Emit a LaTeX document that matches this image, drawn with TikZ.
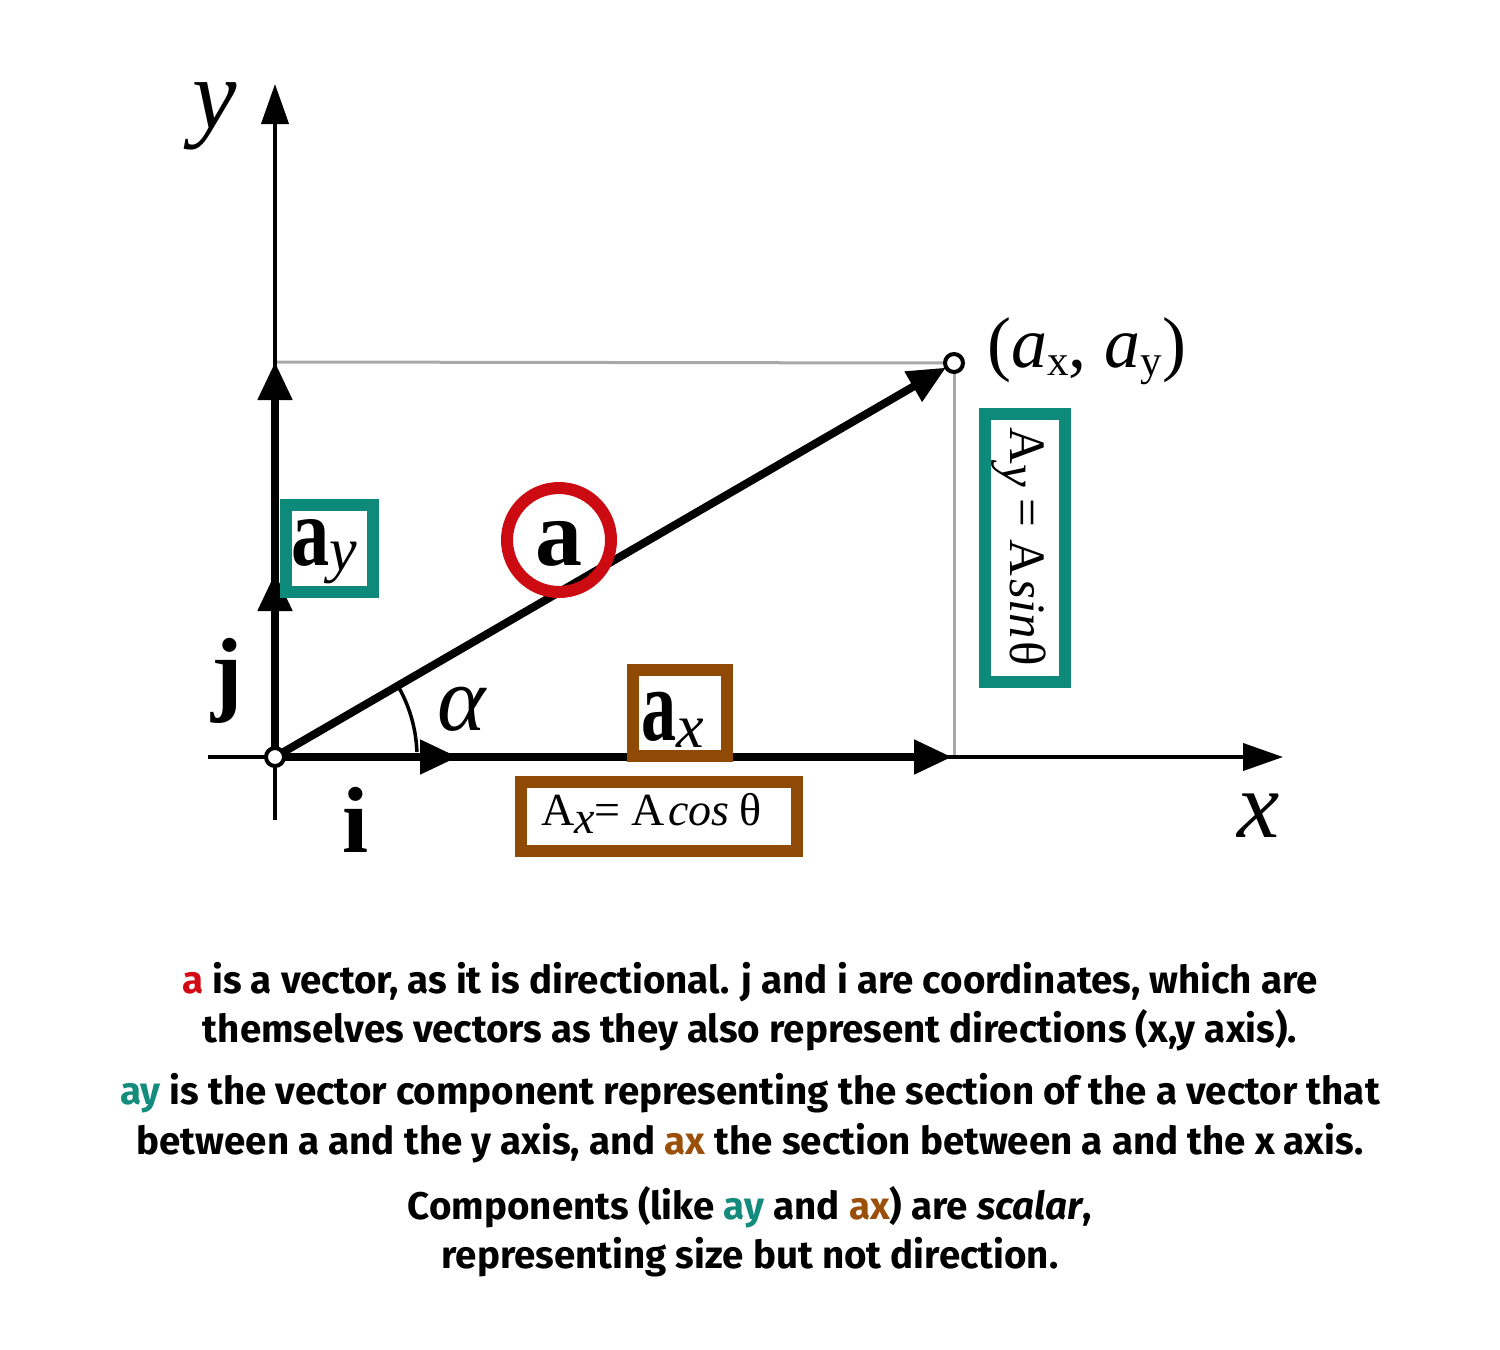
\documentclass[tikz,border=0pt]{standalone}
\usepackage{graphicx}
\usepackage{fontspec}
\setmainfont{Fira Sans}
\newfontfamily\sr{Liberation Serif}
\usetikzlibrary{arrows.meta,calc}
\definecolor{tealc}{RGB}{14,138,122}
\definecolor{redc}{RGB}{204,10,18}
\definecolor{brownc}{RGB}{143,74,5}
\definecolor{grayc}{RGB}{168,168,168}
\definecolor{tealt}{RGB}{20,140,125}
\definecolor{brownt}{RGB}{155,80,10}
\definecolor{redt}{RGB}{210,10,20}
\tikzset{
  axisline/.style={line width=4pt,-{Triangle[length=40pt,width=27pt]}},
  vecline/.style={line width=8pt,-{Triangle[length=38pt,width=33pt]}},
  guide/.style={grayc,line width=3pt},
  frame/.style={draw,line width=12pt,fill=white,inner sep=0pt,rectangle},
  pdot/.style={circle,draw,line width=4pt,fill=white,minimum size=18pt,inner sep=0pt},
  hid/.style={circle,minimum size=18pt,inner sep=0pt},
  lbl/.style={inner sep=0pt,anchor=base},
  txt/.style={anchor=base,inner sep=0pt,font=\fontsize{38.5}{46}\selectfont\bfseries}
}
\begin{document}
\begin{tikzpicture}[x=1pt,y=-1pt]
\useasboundingbox[fill=white] (0,0) rectangle (1500,1350);
% points
\node[hid] (O) at (275,757) {};
\node[hid] (P) at (954,363) {};
\coordinate (Ytip) at (275,84);
\coordinate (Ybot) at (275,820);
\coordinate (Xl) at (208,757);
\coordinate (Xtip) at (1283,757);
\coordinate (AY) at (275,362);
\coordinate (J) at (275,573);
\coordinate (I) at (458,757);
\coordinate (AX) at (952,757);
\coordinate (G) at (954,757);
% guides
\draw[guide] (AY) -- (P.center);
\draw[guide] (P.center) -- (G);
% axes
\draw[axisline] (Ybot) -- (Ytip);
\draw[axisline] (Xl) -- (Xtip);
% vectors
\draw[vecline] (O.center) -- (AY);
\draw[vecline] (O.center) -- (J);
\draw[vecline] (O.center) -- (AX);
\draw[vecline] (O.center) -- (I);
\draw[vecline] (O.center) -- (P);
% angle
\draw[line width=3.5pt] ([shift={(-2:142)}]O.center) arc[start angle=-2,end angle=-29,radius=142];
% boxes
\node[frame,draw=tealc,minimum width=87pt,minimum height=87pt] (aybox) at (329.5,548.5) {};
\node[frame,draw=brownc,minimum width=94pt,minimum height=86pt] (axbox) at (680,713) {};
\node[frame,draw=brownc,minimum width=276pt,minimum height=69pt] (axeqbox) at (659,816.5) {};
\node[frame,draw=tealc,minimum width=80pt,minimum height=268pt] (ayeqbox) at (1025,548) {};
\node[circle,draw=redc,line width=12pt,minimum size=104pt,inner sep=0pt] (acirc) at (559,540) {};
% dots
\node[pdot] (Odot) at (O) {};
\node[pdot] (Pdot) at (P) {};
% labels
\node[lbl,font=\sr\fontsize{100}{100}\selectfont\itshape] (ylab) at (215,128) {y};
\node[lbl,font=\sr\fontsize{95}{95}\selectfont\itshape] (xlab) at (1259,837) {x};
\node[lbl,font=\sr\fontsize{94}{94}\selectfont\bfseries] (jlab) at (227,703) {j};
\node[lbl,font=\sr\fontsize{94}{94}\selectfont\bfseries] (ilab) at (356,852) {i};
\node[lbl,font=\sr\fontsize{92}{92}\selectfont\itshape] (alab) at (462,730) {α};
\node[lbl,font=\sr\fontsize{94}{94}\selectfont\bfseries] (avec) at (559,565) {a};
\node[lbl,anchor=base west] (aylab) at (291,565) {\sr\scalebox{0.78}[1]{\fontsize{98}{98}\selectfont\bfseries a}\raisebox{-5pt}{\fontsize{62}{62}\selectfont\itshape y}};
\node[lbl,anchor=base west] (axlab) at (641,740) {\sr\scalebox{0.68}[1]{\fontsize{103}{103}\selectfont\bfseries a}\raisebox{-7pt}{\fontsize{62}{62}\selectfont\itshape x}};
\node[lbl,anchor=base west] (axeq) at (541,825) {\sr\fontsize{46}{46}\selectfont A\raisebox{-8pt}{\itshape x}=\hspace{11pt}A\hspace{3pt}\textit{cos}\hspace{10pt}θ};
\node[lbl,anchor=base west,rotate=-90] (ayeq) at (1010,427) {\sr\fontsize{51}{51}\selectfont A\raisebox{-8pt}{\itshape y}\hspace{12pt}=\hspace{12pt}A\hspace{3pt}\textit{sin}\hspace{3pt}θ};
\node[lbl,anchor=base west] (ptlab) at (987,367) {\sr\fontsize{72}{72}\selectfont(\textit{a}\raisebox{-8pt}{\fontsize{43}{43}\selectfont x}, \textit{a}\raisebox{-8pt}{\fontsize{43}{43}\selectfont y})};
% text
\node[txt] (t1) at (750,993) {\textcolor{redt}{a} is a vector, as it is directional. j and i are coordinates, which are};
\node[txt] (t2) at (750,1042) {themselves vectors as they also represent directions (x,y axis).};
\node[txt] (t3) at (750,1104) {\textcolor{tealt}{ay} is the vector component representing the section of the a vector that};
\node[txt] (t4) at (750,1154) {between a and the y axis, and \textcolor{brownt}{ax} the section between a and the x axis.};
\node[txt] (t5) at (750,1219) {Components (like \textcolor{tealt}{ay} and \textcolor{brownt}{ax}) are \textit{scalar},};
\node[txt] (t6) at (750,1268) {representing size but not direction.};
\end{tikzpicture}
\end{document}
